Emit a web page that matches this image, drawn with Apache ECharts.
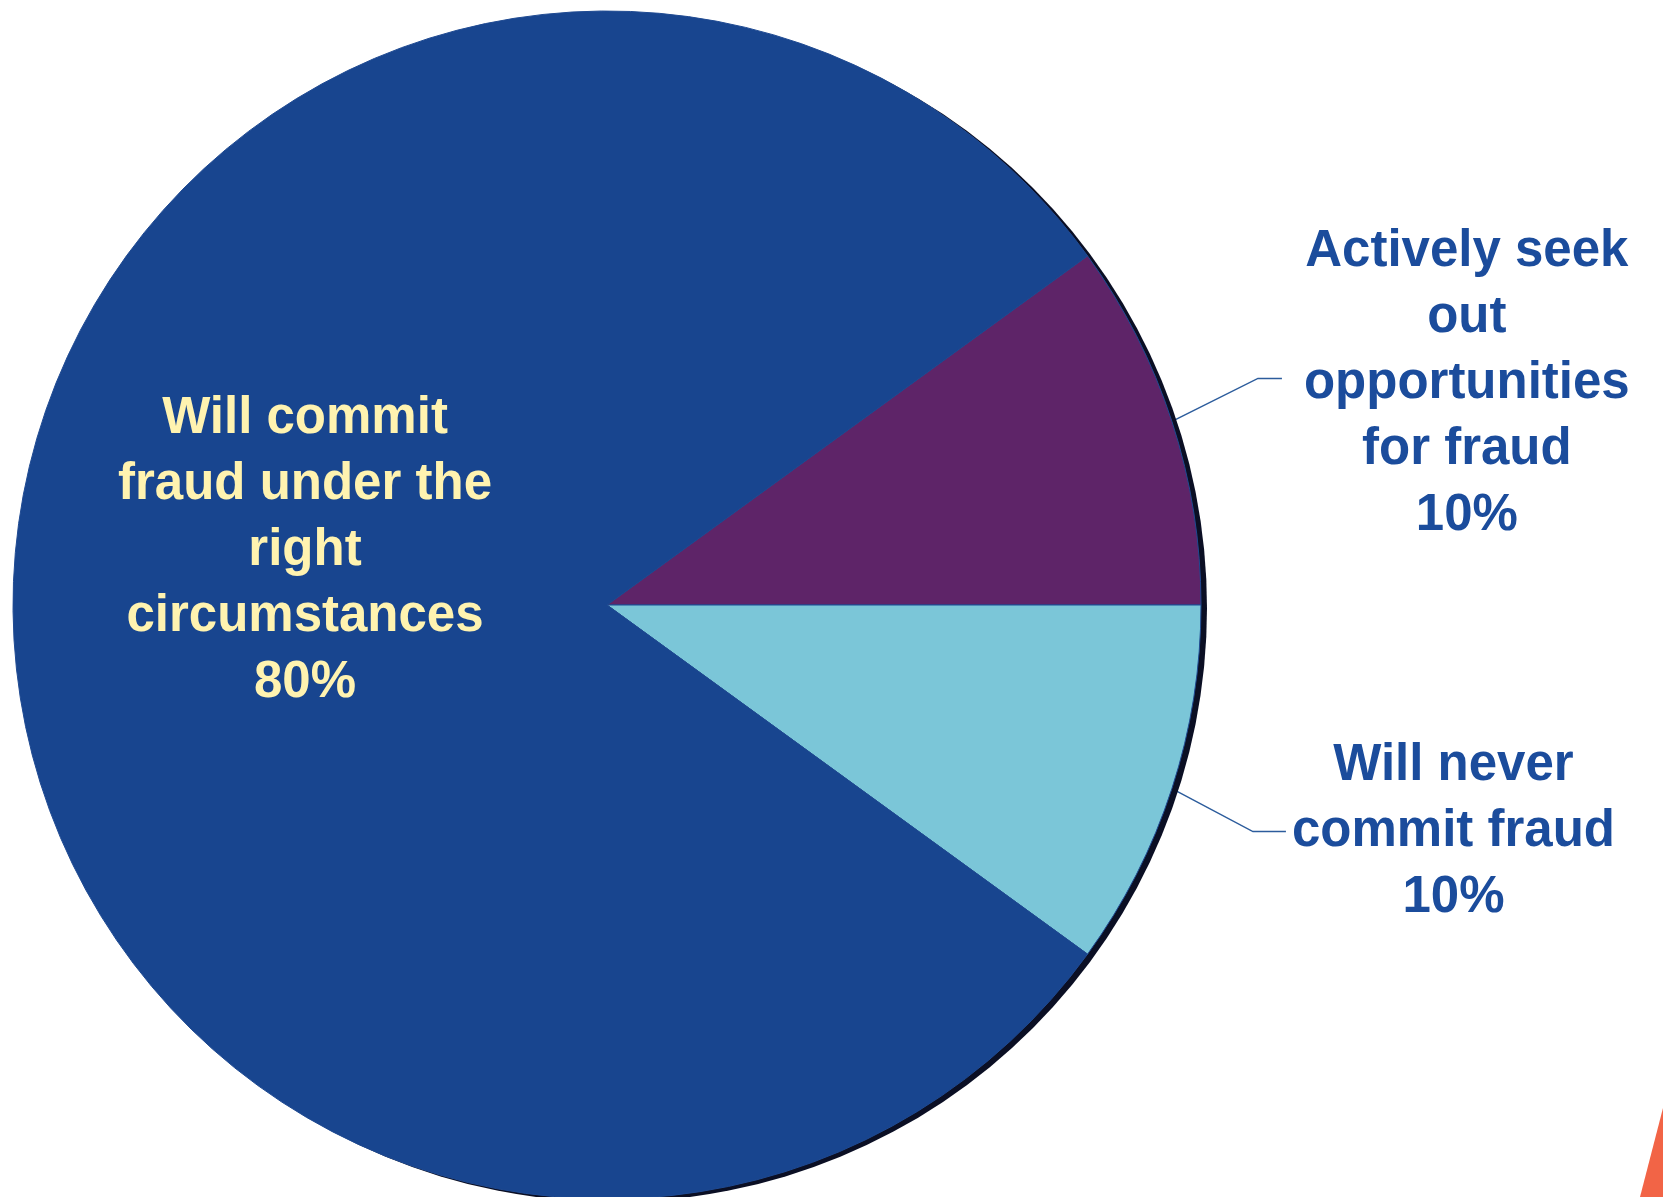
<!DOCTYPE html>
<html>
<head>
    <meta charset="utf-8">
    <title>Fraud pie</title>
    <style>
        html,body{ margin:0; padding:0; background:#ffffff; }
    </style>
</head>
<body>
<div id="main" style="width:1663px;height:1197px;"></div>
<script src="https://cdn.jsdelivr.net/npm/echarts@6/dist/echarts.min.js"></script>
<script type="text/javascript">
    // slice names (line breaks as on the slide) and shares in %
    var categories = [
        'Actively seek\nout\nopportunities\nfor fraud',
        'Will never\ncommit fraud',
        'Will commit\nfraud under the\nright\ncircumstances'
    ];
    var values = [10, 10, 80];

    var mainIndex = values.indexOf(Math.max.apply(null, values));
    var myChart = echarts.init(document.getElementById('main'));

    var pieData = categories.map(function (name, i) {
        var item = { name: name, value: values[i] };
        if (i === mainIndex) {
            item.label = { position: 'inside', offset: [-2, -54] };
            item.labelLine = { show: false };
        }
        return item;
    });

    myChart.setOption({
        animation: false,
        graphic: [{
            // orange corner of the slide
            type: 'polygon',
            shape: { points: [[1640, 1197], [1663, 1108], [1663, 1197]] },
            style: { fill: '#f26446' }
        }],
        series: [{
            // dark rim on the right side of the pie
            type: 'pie',
            silent: true,
            center: [613, 608],
            radius: 594,
            label: { show: false },
            labelLine: { show: false },
            itemStyle: { color: '#0b0f24' },
            data: [{ value: 1, name: '' }]
        }, {
            type: 'pie',
            center: [607, 605],
            radius: 594,
            startAngle: 36,
            clockwise: true,
            avoidLabelOverlap: false,
            color: ['#5e2468', '#7bc6d8', '#18458f'],
            itemStyle: { borderColor: '#1f4a92', borderWidth: 1 },
            label: {
                show: true,
                position: 'outside',
                formatter: function (p) {
                    var key = p.dataIndex === mainIndex ? 'i' : 'o';
                    return '{' + key + '|' + p.name + '\n' + Math.round(p.percent) + '%}';
                },
                rich: {
                    o: {
                        align: 'center', color: '#1b4c9c', fontSize: 51, lineHeight: 66,
                        fontWeight: 'bold', fontFamily: 'Liberation Sans'
                    },
                    i: {
                        align: 'center', color: '#fff3b0', fontSize: 51, lineHeight: 66,
                        fontWeight: 'bold', fontFamily: 'Liberation Sans'
                    }
                }
            },
            labelLine: {
                show: true,
                length: 60,
                length2: 25,
                lineStyle: { color: '#2c5c9c', width: 1.5 }
            },
            labelLayout: function (p) {
                var pts = p.labelLinePoints;
                if (p.dataIndex === mainIndex || !pts) return {};
                var a = pts[0];
                var up = pts[1][1] < a[1];
                var s = up ? -1 : 1;
                var bx = a[0] + (up ? 86 : 81), by = a[1] + s * 43;
                var seg = up ? 24 : 33;
                return {
                    x: bx + seg + (up ? 22 : 6),
                    y: by + (up ? 5 : 0),
                    align: 'left',
                    verticalAlign: 'middle',
                    labelLinePoints: [a, [bx, by], [bx + seg, by]]
                };
            },
            data: pieData
        }]
    });
</script>
</body>
</html>
